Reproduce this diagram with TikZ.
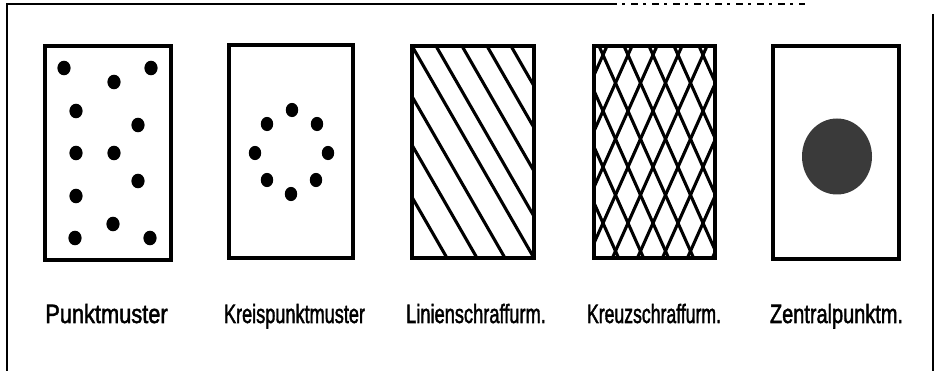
\documentclass[tikz,border=0pt]{standalone}
\usepackage{graphicx}
\usepackage{fontspec}
\newfontfamily\labelfont[FakeBold=2]{Liberation Sans}
\newcommand{\sqlabel}[2]{\scalebox{#1}[1]{#2}}
\definecolor{blobgray}{RGB}{58,58,58}
\tikzset{
  panel/.style={draw=black, line width=3.6pt, inner sep=0pt, outer sep=0pt},
  hatchline/.style={line width=3.1pt, black},
  dotmark/.style={fill=black, draw=none},
  frameline/.style={line width=1.8pt, black},
  lbl/.style={anchor=base, inner sep=0pt, font=\labelfont\fontsize{26.5}{31}\selectfont}
}
\begin{document}
\begin{tikzpicture}[x=1pt,y=-1pt]
\useasboundingbox (0,0) rectangle (938,371);
% frame
\coordinate (ftl) at (7,4);
\coordinate (fbl) at (7,371);
\coordinate (ftm) at (610,4);
\coordinate (ftr) at (805,4);
\coordinate (rtop) at (933,14);
\coordinate (rbot) at (933,371);
\draw[frameline] (fbl) -- (ftl) -- (ftm);
\draw[line width=1.3pt, dash pattern=on 7pt off 5pt on 3pt off 6pt] (ftm) -- (ftr);
\draw[frameline] (rtop) -- (rbot);

% panel 3 line hatching (under its frame)
\begin{scope}
  \clip (412,46) rectangle (534,258);
  \foreach \a in {-87,-57,-29,0,24,50,75,99}
    \draw[hatchline] (412+\a,46) -- ++(122,212);
\end{scope}

% panel 4 cross hatching (under its frame)
\begin{scope}
  \clip (594,46) rectangle (715,258);
  \foreach \k in {-4,...,5}
    \draw[hatchline] (599+25*\k,46) -- ++(94.6,212);
  \foreach \k in {0,...,8}
    \draw[hatchline] (607+25*\k,46) -- ++(-94.6,212);
\end{scope}

% panels
\node[panel, minimum width=126pt, minimum height=214pt] (p1) at (108,153) {};
\node[panel, minimum width=124pt, minimum height=213pt] (p2) at (291,151.5) {};
\node[panel, minimum width=122pt, minimum height=212pt] (p3) at (473,152) {};
\node[panel, minimum width=121pt, minimum height=212pt] (p4) at (654.5,152) {};
\node[panel, minimum width=126pt, minimum height=213pt] (p5) at (836,152.5) {};

% panel 1 dots
\foreach \x/\y in {64/68,151/68,114/82,76/111,138/125,76/153,114/153,138/181,76/196,113/224,75/238,150/238}
  \fill[dotmark] (\x,\y) ellipse [x radius=6.6pt, y radius=7.3pt];

% panel 2 dots in a ring
\foreach \x/\y in {292/110,267/124,317/124,255/153,328/153,267/180,316/180,291/194}
  \fill[dotmark] (\x,\y) ellipse [x radius=6.2pt, y radius=7.1pt];

% panel 5 central blob
\fill[blobgray] (837,156.5) ellipse [x radius=35pt, y radius=38pt];

% labels
\node[lbl] (l1) at (106.5,323) {\sqlabel{0.823}{Punktmuster}};
\node[lbl] (l2) at (294.5,323) {\sqlabel{0.684}{Kreispunktmuster}};
\node[lbl] (l3) at (476,323) {\sqlabel{0.689}{Linienschraffurm.}};
\node[lbl] (l4) at (654,323) {\sqlabel{0.666}{Kreuzschraffurm.}};
\node[lbl] (l5) at (836.5,323) {\sqlabel{0.753}{Zentralpunktm.}};
\end{tikzpicture}
\end{document}
